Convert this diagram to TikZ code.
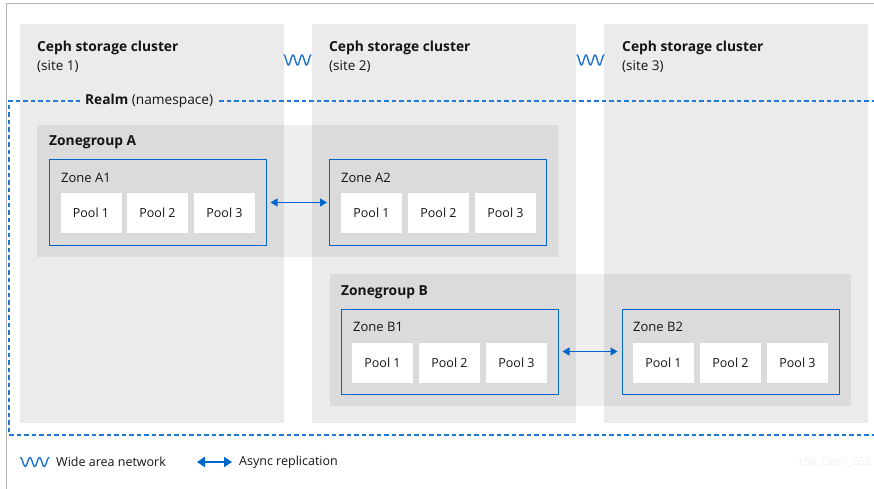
\documentclass[tikz,border=0pt]{standalone}
\usepackage{fontspec}
\setmainfont{Open Sans}
\usetikzlibrary{arrows.meta,positioning}
\definecolor{clbg}{HTML}{EBEBEB}
\definecolor{rhblue}{HTML}{0066CC}
\definecolor{dashblue}{HTML}{1F78D1}
\definecolor{wave}{HTML}{1F74CF}
\definecolor{frame}{HTML}{B4B4B4}
\definecolor{txt}{HTML}{151515}
\tikzset{
  cluster/.style={fill=clbg, draw=none},
  zgroup/.style={fill=black, fill opacity=0.065, draw=none},
  zonebox/.style={draw=rhblue, line width=1pt, minimum width=217pt, minimum height=85pt, inner sep=0pt},
  poolbox/.style={fill=white, draw=none, minimum width=61pt, minimum height=40pt, inner sep=0pt, font=\fontsize{12.5}{14}\selectfont, text=txt},
  ttl/.style={anchor=west, inner sep=0pt, font=\bfseries\fontsize{13.8}{16}\selectfont, text=txt},
  sub/.style={anchor=west, inner sep=0pt, font=\fontsize{13.5}{16}\selectfont, text=txt},
  lbl/.style={anchor=west, inner sep=0pt, font=\fontsize{13}{15}\selectfont, text=txt},
  legtxt/.style={anchor=west, inner sep=0pt, font=\fontsize{12.5}{15}\selectfont, text=txt},
  repl/.style={{Triangle[length=7pt,width=8pt]}-{Triangle[length=7pt,width=8pt]}, draw=rhblue, line width=1.2pt},
  wan/.style={draw=wave, line width=1.4pt, line join=round, line cap=round},
  realmline/.style={draw=dashblue, line width=1.1pt, dash pattern=on 4.5pt off 3pt},
}
\begin{document}
\begin{tikzpicture}[x=1pt,y=-1pt]
\useasboundingbox (0,0) rectangle (874,489);
\fill[white] (0,0) rectangle (874,489);
\clip (0,0) rectangle (874,489);
% outer frame
\draw[frame, line width=1pt] (6.5,495) -- (6.5,3.5) -- (880,3.5);
% clusters
\fill[cluster] (20,24) rectangle (284,423);
\fill[cluster] (312,24) rectangle (576,423);
\fill[cluster] (604,24) rectangle (868,423);
\node[ttl] (c1t) at (37,48) {Ceph storage cluster};
\node[sub] (c1s) at (37,67) {(site 1)};
\node[ttl] (c2t) at (329,48) {Ceph storage cluster};
\node[sub] (c2s) at (329,67) {(site 2)};
\node[ttl] (c3t) at (622,48) {Ceph storage cluster};
\node[sub] (c3s) at (622,67) {(site 3)};
% WAN waves
\draw[wan] plot[domain=0:6*pi, samples=80, smooth] ({284+\x/(6*pi)*27}, {60-5*cos(\x r)});
\draw[wan] plot[domain=0:6*pi, samples=80, smooth] ({577+\x/(6*pi)*27}, {60-5*cos(\x r)});
% realm
\draw[realmline] (80,101) -- (9,101) -- (9,435) -- (880,435);
\draw[realmline] (219,101) -- (880,101);
\node[anchor=west, inner sep=0pt, text=txt, font=\fontsize{13.7}{16}\selectfont] (realm) at (85,101) {\textbf{Realm} (namespace)};
% zonegroups
\fill[zgroup] (37,125) rectangle (558,257);
\fill[zgroup] (330,274) rectangle (851,406);
\node[ttl] (zga) at (49,142) {Zonegroup A};
\node[ttl] (zgb) at (341,292) {Zonegroup B};
% zones
\node[zonebox] (za1) at (157.5,202.5) {};
\node[zonebox] (za2) at (438,202.5) {};
\node[zonebox] (zb1) at (449.5,351.5) {};
\node[zonebox] (zb2) at (730.5,351.5) {};
\node[lbl] (za1l) at (61,178) {Zone A1};
\node[lbl] (za2l) at (341,178) {Zone A2};
\node[lbl] (zb1l) at (353,327) {Zone B1};
\node[lbl] (zb2l) at (633,327) {Zone B2};
% pools
\node[poolbox] (a1p1) at (91,213) {Pool 1};
\node[poolbox] (a1p2) at (157.5,213) {Pool 2};
\node[poolbox] (a1p3) at (224.5,213) {Pool 3};
\node[poolbox] (a2p1) at (371.5,213) {Pool 1};
\node[poolbox] (a2p2) at (438.5,213) {Pool 2};
\node[poolbox] (a2p3) at (505.5,213) {Pool 3};
\node[poolbox] (b1p1) at (382.5,363) {Pool 1};
\node[poolbox] (b1p2) at (449.5,363) {Pool 2};
\node[poolbox] (b1p3) at (516.5,363) {Pool 3};
\node[poolbox] (b2p1) at (663.5,363) {Pool 1};
\node[poolbox] (b2p2) at (730.5,363) {Pool 2};
\node[poolbox] (b2p3) at (797.5,363) {Pool 3};
% replication arrows
\draw[repl, shorten <=4pt, shorten >=2pt] (za1.east) -- (za2.west);
\draw[repl, shorten <=4pt, shorten >=4pt] (zb1.east) -- (zb2.west);
% legend
\draw[wan] plot[domain=0:6*pi, samples=80, smooth] ({20.5+\x/(6*pi)*28.5}, {462-4.5*cos(\x r)});
\node[legtxt] (lwan) at (56,462) {Wide area network};
\coordinate (la) at (197,462);
\coordinate (lb) at (232,462);
\draw[{Triangle[length=8pt,width=10pt]}-{Triangle[length=8pt,width=10pt]}, draw=rhblue, line width=2.2pt] (la) -- (lb);
\node[legtxt] (lrep) at (239,462) {Async replication};
\node[anchor=east, inner sep=0pt, text=black!6, font=\fontsize{11}{13}\selectfont] (wm) at (872,463) {158\_Ceph\_052};
\end{tikzpicture}
\end{document}
